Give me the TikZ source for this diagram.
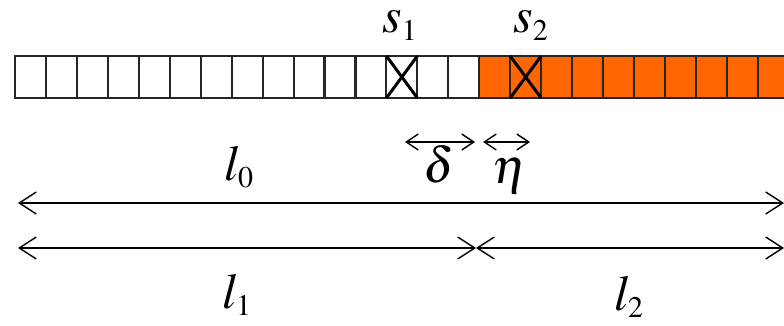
\documentclass[tikz,border=0pt]{standalone}
\usepackage{mathptmx}
\usepackage{tikz}
\usetikzlibrary{arrows.meta}
\definecolor{SegOrange}{RGB}{255,102,0}
\DeclareMathSizes{50}{50}{30}{25}

\begin{document}
\begin{tikzpicture}[x=1pt,y=-1pt,>={Straight Barb[length=17pt,width=22pt]},
  cell/.style={draw=black!85,line width=2.1pt,minimum width=30.95pt,minimum height=42pt,inner sep=0pt,outer sep=0pt},
  hot/.style={cell,fill=SegOrange},
  lab/.style={font=\fontsize{50}{60}\selectfont,inner sep=0pt,anchor=base},
  dim/.style={line width=1.4pt},
  smalldim/.style={dim,>={Straight Barb[length=12pt,width=16pt]}},
  cross/.style={line width=3pt}]
\clip (0,0) rectangle (784,326);
% row of sites
\foreach \i in {0,...,14} \node[cell] (c\i) at ({15+30.95*(\i+0.5)},77) {};
\foreach \i in {15,...,24} \node[hot] (c\i) at ({15+30.95*(\i+0.5)},77) {};
\draw[cross] (c12.north west) -- (c12.south east) (c12.south west) -- (c12.north east);
\draw[cross] (c16.north west) -- (c16.south east) (c16.south west) -- (c16.north east);
\node[lab] (s1) at (400,33) {$s_1$};
\node[lab] (s2) at (531,33) {$s_2$};
% small gaps
\coordinate (d0) at (405,142);\coordinate (d1) at (475,142);
\coordinate (e0) at (483,142);\coordinate (e1) at (530,142);
\draw[smalldim,<->] (d0) -- (d1);
\draw[smalldim,<->] (e0) -- (e1);
\node[lab] (delta) at (439,182) {$\delta$};
\node[lab] (eta) at (510,183) {$\eta$};
% lengths
\coordinate (a0) at (18,203);\coordinate (a1) at (784,203);
\coordinate (b0) at (18,248);\coordinate (bm) at (476,248);\coordinate (b1) at (784,248);
\draw[dim,<->] (a0) -- (a1);
\draw[dim,<->] (b0) -- (bm);
\draw[dim,<->] (bm) -- (b1);
\node[lab] (l0) at (239,180) {$l_0$};
\node[lab] (l1) at (237,308) {$l_1$};
\node[lab] (l2) at (629,310) {$l_2$};
\end{tikzpicture}
\end{document}
